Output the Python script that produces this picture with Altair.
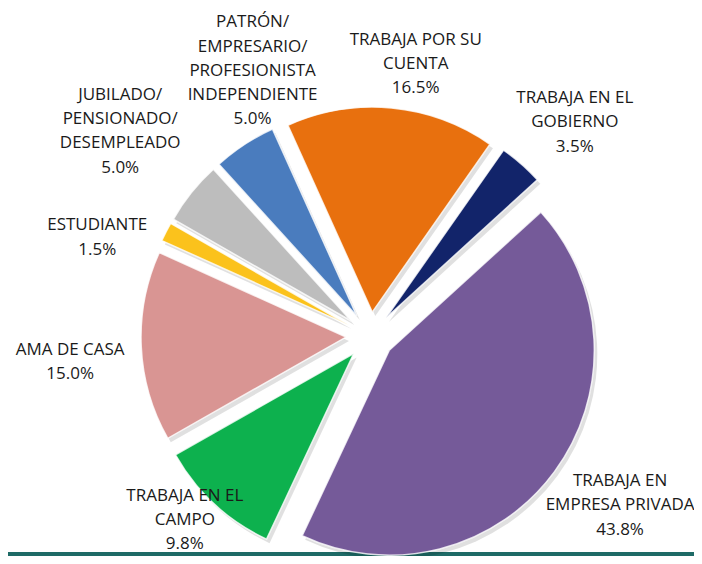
import math
import altair as alt
import pandas as pd

# ---- data ----
categories = [
    "TRABAJA EN EL GOBIERNO",
    "TRABAJA EN EMPRESA PRIVADA",
    "TRABAJA EN EL CAMPO",
    "AMA DE CASA",
    "ESTUDIANTE",
    "JUBILADO/ PENSIONADO/ DESEMPLEADO",
    "PATRÓN/ EMPRESARIO/ PROFESIONISTA INDEPENDIENTE",
    "TRABAJA POR SU CUENTA",
]
label_lines = [
    ["TRABAJA EN EL", "GOBIERNO"],
    ["TRABAJA EN", "EMPRESA PRIVADA"],
    ["TRABAJA EN EL", "CAMPO"],
    ["AMA DE CASA"],
    ["ESTUDIANTE"],
    ["JUBILADO/", "PENSIONADO/", "DESEMPLEADO"],
    ["PATRÓN/", "EMPRESARIO/", "PROFESIONISTA", "INDEPENDIENTE"],
    ["TRABAJA POR SU", "CUENTA"],
]
percent = [3.5, 43.8, 9.8, 15.0, 1.5, 5.0, 5.0, 16.5]

# ---- style / layout ----
colors = ["#12246A", "#755A99", "#0DB14E", "#D99593", "#FBC21C", "#BDBDBD", "#4A7CBE", "#E8700E"]
# label placement: (angle nudge from slice mid, in degrees; distance from pie centre, px)
label_layout = {
    "TRABAJA EN EL GOBIERNO": (2.45, 296),
    "TRABAJA EN EMPRESA PRIVADA": (-2.3, 302),
    "TRABAJA EN EL CAMPO": (2.4, 261),
    "AMA DE CASA": (-2.4, 301),
    "ESTUDIANTE": (-7.2, 290),
    "JUBILADO/ PENSIONADO/ DESEMPLEADO": (0.6, 323),
    "PATRÓN/ EMPRESARIO/ PROFESIONISTA INDEPENDIENTE": (9.4, 290),
    "TRABAJA POR SU CUENTA": (4.15, 276),
}
W, H = 686, 548
CX, CY = 362, 328
RADIUS = 205
EXPLODE = 24
START = math.radians(35.05)
FONT = "Open Sans"
LH = 24.3

df = pd.DataFrame({
    "cat": categories,
    "pct": percent,
    "order": list(range(len(categories))),
    "txt": ["\n".join(l + [f"{p:.1f}%"]) for l, p in zip(label_lines, percent)],
    "nl": [len(l) + 1 for l in label_lines],
    "dang": [label_layout[c][0] for c in categories],
    "lr": [label_layout[c][1] for c in categories],
})

base = (
    alt.Chart(df)
    .transform_window(cum="sum(pct)", sort=[alt.SortField("order")], frame=[None, 0])
    .transform_joinaggregate(total="sum(pct)")
    .transform_calculate(
        a0=f"(datum.cum - datum.pct) / datum.total * 2 * PI + {START}",
        a1=f"datum.cum / datum.total * 2 * PI + {START}",
    )
    .transform_calculate(mid="(datum.a0 + datum.a1) / 2")
    .transform_calculate(
        sx=f"{CX} + {EXPLODE} * sin(datum.mid)",
        sy=f"{CY} - {EXPLODE} * cos(datum.mid)",
        la="datum.mid + datum.dang * PI / 180",
    )
    .transform_calculate(
        lx=f"{CX} + datum.lr * sin(datum.la)",
        ly=f"{CY} - datum.lr * cos(datum.la) - (datum.nl - 1) * {LH} / 2",
        shx="datum.sx + 3",
        shy="datum.sy + 4",
    )
)

shadow = base.mark_arc(outerRadius=RADIUS, color="#000000", opacity=0.12).encode(
    theta=alt.Theta("a0:Q", scale=None),
    theta2="a1:Q",
    x=alt.X("shx:Q", scale=None, axis=None),
    y=alt.Y("shy:Q", scale=None, axis=None),
)

arcs = base.mark_arc(outerRadius=RADIUS, stroke="#ffffff", strokeWidth=1.5, strokeOpacity=0.8).encode(
    theta=alt.Theta("a0:Q", scale=None),
    theta2="a1:Q",
    x=alt.X("sx:Q", scale=None, axis=None),
    y=alt.Y("sy:Q", scale=None, axis=None),
    color=alt.Color("cat:N", scale=alt.Scale(domain=categories, range=colors), legend=None),
)

labels = base.mark_text(
    font=FONT, fontSize=17, lineHeight=LH, lineBreak="\n",
    align="center", baseline="middle", color="#1a1a1a",
).encode(
    x=alt.X("lx:Q", scale=None, axis=None),
    y=alt.Y("ly:Q", scale=None, axis=None),
    text="txt:N",
)

strip = alt.Chart(pd.DataFrame({"k": [0]})).mark_rect(color="#1E6A66").encode(
    x=alt.value(-8), x2=alt.value(W + 8), y=alt.value(H - 4), y2=alt.value(H)
)

chart = (
    alt.layer(strip, shadow, arcs, labels)
    .properties(width=W, height=H, autosize=alt.AutoSizeParams(type="none"), padding=0)
    .configure_view(stroke=None)
)

chart.save("out.html", embed_options={"renderer": "svg", "actions": False})
